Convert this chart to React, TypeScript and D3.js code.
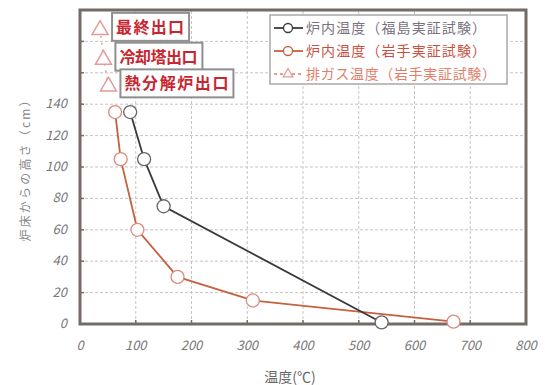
import * as d3 from "d3";
import { useEffect, useRef } from "react";

// 炉内温度（福島実証試験）
const fukushimaTemp = [90, 115, 150, 541];
const fukushimaHeight = [135, 105, 75, 1];
// 炉内温度（岩手実証試験）
const iwateTemp = [63, 73, 103, 175, 310, 670];
const iwateHeight = [135, 105, 60, 30, 15, 1.5];
// 排ガス温度（岩手実証試験）
const gasTemp = [36, 42, 51];
const gasHeight = [188, 169, 152];
const gasLabels = ["最終出口", "冷却塔出口", "熱分解炉出口"];

const xTicks = [0, 100, 200, 300, 400, 500, 600, 700, 800];
const yTicks = [0, 20, 40, 60, 80, 100, 120, 140];
const yGrid = [20, 40, 60, 80, 100, 120, 140, 160, 180];

const legendLabels = [
  "炉内温度（福島実証試験）",
  "炉内温度（岩手実証試験）",
  "排ガス温度（岩手実証試験）",
];

const W = 549;
const H = 385;
const FONT = "'Noto Sans CJK JP', 'Noto Sans', sans-serif";

export default function App() {
  const svgRef = useRef<SVGSVGElement>(null);

  useEffect(() => {
    if (!svgRef.current) return;
    const svg = d3.select(svgRef.current);
    svg.selectAll("*").remove();

    const x = d3.scaleLinear([0, 800], [80, 526]);
    const y = d3.scaleLinear([0, 200], [324, 10]);

    const frame = "#756b66";
    const grid = "#c9c4c0";
    const black = "#3a3a3a";
    const red = "#c4613f";
    const pink = "#e39a9a";

    svg.append("rect").attr("width", W).attr("height", H).attr("fill", "#fff");

    // grid
    svg
      .append("g")
      .selectAll("line")
      .data(xTicks.slice(1, -1))
      .join("line")
      .attr("x1", (d) => x(d))
      .attr("x2", (d) => x(d))
      .attr("y1", y(0))
      .attr("y2", y(200))
      .attr("stroke", grid)
      .attr("stroke-dasharray", "3,2");
    svg
      .append("g")
      .selectAll("line")
      .data(yGrid)
      .join("line")
      .attr("x1", x(0))
      .attr("x2", x(800))
      .attr("y1", (d) => y(d))
      .attr("y2", (d) => y(d))
      .attr("stroke", grid)
      .attr("stroke-dasharray", "3,2");

    // frame
    svg
      .append("rect")
      .attr("x", x(0))
      .attr("y", y(200))
      .attr("width", x(800) - x(0))
      .attr("height", y(0) - y(200))
      .attr("fill", "none")
      .attr("stroke", frame)
      .attr("stroke-width", 3);

    // tick marks
    svg
      .append("g")
      .selectAll("line")
      .data(xTicks.slice(1, -1))
      .join("line")
      .attr("x1", (d) => x(d))
      .attr("x2", (d) => x(d))
      .attr("y1", y(0))
      .attr("y2", y(0) - 4)
      .attr("stroke", frame)
      .attr("stroke-width", 1.5);
    svg
      .append("g")
      .selectAll("line")
      .data(yGrid)
      .join("line")
      .attr("x1", x(0))
      .attr("x2", x(0) + 4)
      .attr("y1", (d) => y(d))
      .attr("y2", (d) => y(d))
      .attr("stroke", frame)
      .attr("stroke-width", 1.5);

    // tick labels
    svg
      .append("g")
      .selectAll("text")
      .data(xTicks)
      .join("text")
      .attr("x", (d) => x(d))
      .attr("y", 350)
      .attr("text-anchor", "middle")
      .attr("font-size", 13)
      .attr("font-style", "italic")
      .attr("fill", "#777")
      .attr("font-family", FONT)
      .text((d) => d);
    svg
      .append("g")
      .selectAll("text")
      .data(yTicks)
      .join("text")
      .attr("x", 67)
      .attr("y", (d) => y(d) + 4)
      .attr("text-anchor", "end")
      .attr("font-size", 13)
      .attr("font-style", "italic")
      .attr("fill", "#777")
      .attr("font-family", FONT)
      .text((d) => d);

    // axis titles
    svg
      .append("text")
      .attr("x", 290)
      .attr("y", 382)
      .attr("text-anchor", "middle")
      .attr("font-size", 14)
      .attr("fill", "#666")
      .attr("font-family", FONT)
      .text("温度(℃)");
    svg
      .append("text")
      .attr("transform", `translate(30,${168}) rotate(-90)`)
      .attr("text-anchor", "middle")
      .attr("font-size", 12)
      .attr("fill", "#888")
      .attr("font-family", FONT)
      .attr("textLength", 147)
      .text("炉床からの高さ（cm）");

    const lineGen = d3
      .line<[number, number]>()
      .x((d) => x(d[0]))
      .y((d) => y(d[1]));
    const triangle = d3.symbol(d3.symbolTriangle, 110);

    // 排ガス温度
    const gasPts = gasTemp.map((t, i) => [t, gasHeight[i]] as [number, number]);
    svg
      .append("path")
      .attr("d", lineGen(gasPts))
      .attr("fill", "none")
      .attr("stroke", pink)
      .attr("stroke-width", 1.5)
      .attr("stroke-dasharray", "2,5");
    svg
      .append("g")
      .selectAll("path")
      .data(gasPts)
      .join("path")
      .attr("d", triangle)
      .attr("transform", (d) => `translate(${x(d[0])},${y(d[1]) + 1})`)
      .attr("fill", "#fff")
      .attr("stroke", pink)
      .attr("stroke-width", 1.5);

    // annotation boxes
    const boxOffsets = [
      [12, 77],
      [12, 87],
      [12, 113],
    ];
    gasPts.forEach((d, i) => {
      const bx = x(d[0]) + boxOffsets[i][0];
      const bw = boxOffsets[i][1];
      const by = y(d[1]) - 16;
      svg
        .append("rect")
        .attr("x", bx)
        .attr("y", by)
        .attr("width", bw)
        .attr("height", 28)
        .attr("fill", "#fff")
        .attr("stroke", "#8f8f8f")
        .attr("stroke-width", 2);
      svg
        .append("text")
        .attr("x", bx + 4)
        .attr("y", by + 20)
        .attr("font-size", 16)
        .attr("font-weight", "bold")
        .attr("fill", "#c8262f")
        .attr("font-family", FONT)
        .attr("textLength", bw - 9)
        .text(gasLabels[i]);
    });

    // 炉内温度 series
    const series = [
      { t: iwateTemp, h: iwateHeight, color: red, marker: "#d98a80" },
      { t: fukushimaTemp, h: fukushimaHeight, color: black, marker: "#666" },
    ];
    series.forEach((s) => {
      const pts = s.t.map((t, i) => [t, s.h[i]] as [number, number]);
      svg
        .append("path")
        .attr("d", lineGen(pts))
        .attr("fill", "none")
        .attr("stroke", s.color)
        .attr("stroke-width", 1.8);
      svg
        .append("g")
        .selectAll("circle")
        .data(pts)
        .join("circle")
        .attr("cx", (d) => x(d[0]))
        .attr("cy", (d) => y(d[1]))
        .attr("r", 6.5)
        .attr("fill", "#fff")
        .attr("stroke", s.marker)
        .attr("stroke-width", 1.3);
    });

    // legend
    const lg = svg.append("g");
    lg.append("rect")
      .attr("x", 270)
      .attr("y", 15)
      .attr("width", 237)
      .attr("height", 69)
      .attr("fill", "#fff")
      .attr("stroke", "#a8a8a8")
      .attr("stroke-width", 1.5);
    const legendColors = [black, red, pink];
    const textColors = ["#7a7080", "#c9503f", "#e0806a"];
    legendLabels.forEach((label, i) => {
      const ly = 28 + i * 23;
      lg.append("line")
        .attr("x1", 274)
        .attr("x2", 303)
        .attr("y1", ly)
        .attr("y2", ly)
        .attr("stroke", legendColors[i])
        .attr("stroke-width", 1.8)
        .attr("stroke-dasharray", i === 2 ? "3,3" : null);
      if (i < 2) {
        lg.append("circle")
          .attr("cx", 288)
          .attr("cy", ly)
          .attr("r", 4.5)
          .attr("fill", "#fff")
          .attr("stroke", legendColors[i])
          .attr("stroke-width", 1.3);
      } else {
        lg.append("path")
          .attr("d", d3.symbol(d3.symbolTriangle, 40)())
          .attr("transform", `translate(288,${ly})`)
          .attr("fill", "#fff")
          .attr("stroke", pink)
          .attr("stroke-width", 1.3);
      }
      lg.append("text")
        .attr("x", 306)
        .attr("y", ly + 5)
        .attr("font-size", 14)
        .attr("fill", textColors[i])
        .attr("font-family", FONT)
        .attr("textLength", i === 2 ? 190 : 180)
        .text(label);
    });
  }, []);

  return (
    <svg
      ref={svgRef}
      width={W}
      height={H}
      style={{ position: "absolute", left: 0, top: 0 }}
    />
  );
}
